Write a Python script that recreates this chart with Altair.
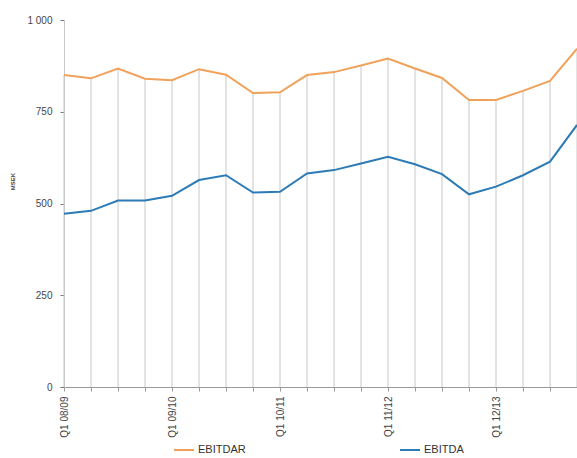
import altair as alt
import pandas as pd

quarters = [
    "Q1 08/09", "Q2 08/09", "Q3 08/09", "Q4 08/09",
    "Q1 09/10", "Q2 09/10", "Q3 09/10", "Q4 09/10",
    "Q1 10/11", "Q2 10/11", "Q3 10/11", "Q4 10/11",
    "Q1 11/12", "Q2 11/12", "Q3 11/12", "Q4 11/12",
    "Q1 12/13", "Q2 12/13", "Q3 12/13", "Q4 12/13",
]
ebitdar = [850, 841, 868, 840, 836, 866, 851, 801, 803, 850,
           858, 876, 895, 868, 842, 782, 782, 807, 834, 922]
ebitda = [472, 480, 508, 508, 521, 564, 577, 530, 532, 582,
          591, 609, 627, 607, 580, 525, 546, 577, 614, 714]
series = ["EBITDAR", "EBITDA"]
colors = ["#f0a25a", "#2c7bb6"]

rows = []
for q, a, b in zip(quarters, ebitdar, ebitda):
    rows.append({"q": q, "series": "EBITDAR", "v": a})
    rows.append({"q": q, "series": "EBITDA", "v": b})
df = pd.DataFrame(rows)
drop = pd.DataFrame({"q": quarters, "v": ebitdar})

FONT = "Liberation Sans"

x_enc = alt.X(
    "q:O",
    sort=quarters,
    scale=alt.Scale(type="point", padding=0),
    axis=alt.Axis(
        title=None,
        labelAngle=-90,
        labelFontSize=10,
        labelColor="#444444",
        labelExpr="substring(datum.label, 0, 2) == 'Q1' ? datum.label : ''",
        tickSize=4,
        tickColor="#999999",
        domainColor="#999999",
        labelPadding=5,
        grid=False,
        labelFont=FONT,
    ),
)

y_scale = alt.Scale(domain=[0, 1000], nice=False)

rules = alt.Chart(drop).mark_rule(color="#c8c8c8", strokeWidth=1).encode(
    x=x_enc,
    y=alt.Y(
        "v:Q",
        scale=y_scale,
        axis=alt.Axis(
            title="MSEK",
            titleFontSize=6,
            titleFont=FONT,
            titleColor="#444444",
            titleX=-49,
            titleY=161,
            titleAngle=-90,
            values=[0, 250, 500, 750, 1000],
            labelExpr="replace(format(datum.value, ','), ',', ' ')",
            labelFontSize=10,
            labelColor="#444444",
            labelFont=FONT,
            labelPadding=8,
            tickSize=4,
            tickColor="#777777",
            domainColor="#c8c8c8",
            grid=False,
        ),
    ),
    y2=alt.datum(0),
)

lines = alt.Chart(df).mark_line(strokeWidth=2).encode(
    x=alt.X("q:O", sort=quarters),
    y=alt.Y("v:Q", scale=y_scale),
    color=alt.Color(
        "series:N",
        scale=alt.Scale(domain=series, range=colors),
        legend=alt.Legend(
            title=None,
            orient="none",
            legendX=109,
            legendY=419,
            direction="horizontal",
            symbolType="stroke",
            symbolStrokeWidth=2,
            symbolSize=400,
            labelFontSize=11,
            labelFont=FONT,
            labelColor="#333333",
            labelOffset=3,
            columnPadding=150,
        ),
    ),
)

chart = (
    alt.layer(rules, lines)
    .properties(
        width=513,
        height=367,
        padding={"left": 64, "top": 20, "right": 0, "bottom": 71},
        autosize=alt.AutoSizeParams(type="none"),
        background="white",
    )
    .configure_view(stroke=None)
)

chart.save("out.html", embed_options={"renderer": "svg", "actions": False})
